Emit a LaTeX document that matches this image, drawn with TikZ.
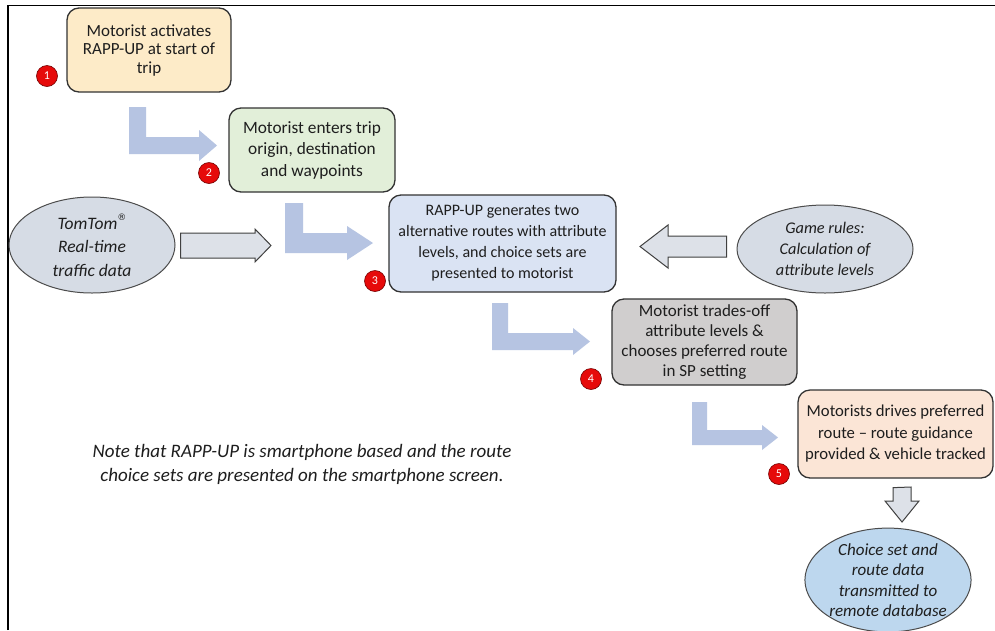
\documentclass[tikz,border=0pt]{standalone}
\usepackage{fontspec}
\setmainfont{Carlito}
\newfontfamily\symfont{DejaVu Sans}
\usetikzlibrary{shapes.geometric,calc}
\definecolor{cOne}{RGB}{253,235,200}
\definecolor{cTwo}{RGB}{226,239,217}
\definecolor{cThree}{RGB}{218,227,243}
\definecolor{cFour}{RGB}{208,206,206}
\definecolor{cFive}{RGB}{251,229,214}
\definecolor{cEllGrey}{RGB}{214,220,229}
\definecolor{cEllBlue}{RGB}{189,215,238}
\definecolor{cLarrow}{RGB}{182,196,226}
\definecolor{cGarrow}{RGB}{221,225,232}
\definecolor{cBadge}{RGB}{230,10,10}
\definecolor{cText}{RGB}{30,30,30}
\tikzset{
  stepbox/.style={draw=black!80, line width=1.3pt, rounded corners=12pt, align=center,
    text=cText, inner sep=2pt},
  badge/.style={circle, fill=cBadge, draw=red!45!black, line width=0.6pt,
    minimum size=21pt, inner sep=0pt, text=white, font=\fontsize{12}{12}\selectfont},
  ell/.style={ellipse, draw=black!70, line width=1pt, align=center, text=cText,
    inner sep=0pt},
  lbar/.style={fill=cLarrow, draw=none},
  garrow/.style={fill=cGarrow, draw=black!75, line width=1pt, line join=miter},
}
% L-shaped block arrow: x1, x2, ytop, yb1, yb2, hx, hy1, hy2, tip
\newcommand{\LArrow}[9]{%
  \fill[lbar] (#1,#3) -- (#2,#3) -- (#2,#4) -- (#6,#4) -- (#6,#7) -- (#9,{(#7+#8)/2})
    -- (#6,#8) -- (#6,#5) -- (#1,#5) -- cycle;}
\begin{document}
\begin{tikzpicture}[x=1pt,y=-1pt]
\useasboundingbox (0,0) rectangle (995,630);
\fill[white] (0,0) rectangle (995,630);
\draw[line width=1.6pt] (8,630) -- (8,5.5) -- (995,5.5);

% boxes
\node[stepbox, fill=cOne, minimum width=164pt, minimum height=84pt,
  font=\fontsize{17}{18.5}\selectfont] (b1) at (149,50)
  {Motorist activates\\RAPP-UP at start of\\trip};
\node[stepbox, fill=cTwo, minimum width=166pt, minimum height=84pt,
  font=\fontsize{17.3}{21.5}\selectfont] (b2) at (312,150)
  {Motorist enters trip\\origin, destination\\and waypoints};
\node[stepbox, fill=cThree, minimum width=227pt, minimum height=97pt,
  font=\fontsize{16}{21}\selectfont] (b3) at (502.5,243.5)
  {RAPP-UP generates two\\alternative routes with attribute\\levels, and choice sets are\\presented to motorist};
\node[stepbox, fill=cFour, minimum width=185pt, minimum height=86pt,
  font=\fontsize{17}{20.3}\selectfont] (b4) at (704.5,342)
  {Motorist trades-off\\attribute levels \&\\chooses preferred route\\in SP setting};
\node[stepbox, fill=cFive, minimum width=195pt, minimum height=88pt,
  font=\fontsize{16.7}{21.5}\selectfont] (b5) at (895.5,434)
  {Motorists drives preferred\\route -- route guidance\\provided \& vehicle tracked};

% badges
\node[badge] (n1) at (47,76) {1};
\node[badge] (n2) at (209,173) {2};
\node[badge] (n3) at (375,281) {3};
\node[badge] (n4) at (591,379) {4};
\node[badge] (n5) at (779,474) {5};

% ellipses
\node[ell, fill=cEllGrey, minimum width=166pt, minimum height=96pt,
  font=\itshape\fontsize{17.5}{23.5}\selectfont] (tt) at (92,245)
  {TomTom\raisebox{0.5em}{\symfont\fontsize{9}{9}\selectfont ®}\\Real-time\\traffic data};
\node[ell, fill=cEllGrey, minimum width=176pt, minimum height=88pt,
  font=\itshape\fontsize{16.3}{21}\selectfont] (gr) at (825,249)
  {Game rules:\\Calculation of\\attribute levels};
\node[ell, fill=cEllBlue, minimum width=166pt, minimum height=94pt,
  font=\itshape\fontsize{17}{20.5}\selectfont] (db) at (888,580)
  {Choice set and\\route data\\transmitted to\\remote database};

% L-shaped flow arrows
\LArrow{129}{146}{107}{137}{154}{199}{130}{161}{217}
\LArrow{285}{303}{203}{233}{253}{347}{226}{260}{373}
\LArrow{492}{508}{303}{333}{350}{573}{328}{355}{590}
\LArrow{692}{707}{402}{430}{445}{762}{425}{450}{778}

% grey block arrows
\draw[garrow] ($(tt.east)+(5,-12)$) -- (255,233) -- (255,229) -- (271,245.5)
  -- (255,262) -- (255,258) -- ($(tt.east)+(5,13)$) -- cycle;
\draw[garrow] ($(gr.west)+(-10,-13)$) -- (668,236) -- (668,225) -- (640,246.5)
  -- (668,268) -- (668,257) -- ($(gr.west)+(-10,8)$) -- cycle;
\draw[garrow] ($(b5.south)+(-2.5,9)$) -- (911,487) -- (911,501) -- (919,501)
  -- (902,522) -- (885,501) -- (893,501) -- (893,487) -- cycle;

% note
\node[font=\itshape\fontsize{19}{24}\selectfont, text=cText, align=center] (note) at (302,464)
  {Note that RAPP-UP is smartphone based and the route\\choice sets are presented on the smartphone screen.};
\end{tikzpicture}
\end{document}
